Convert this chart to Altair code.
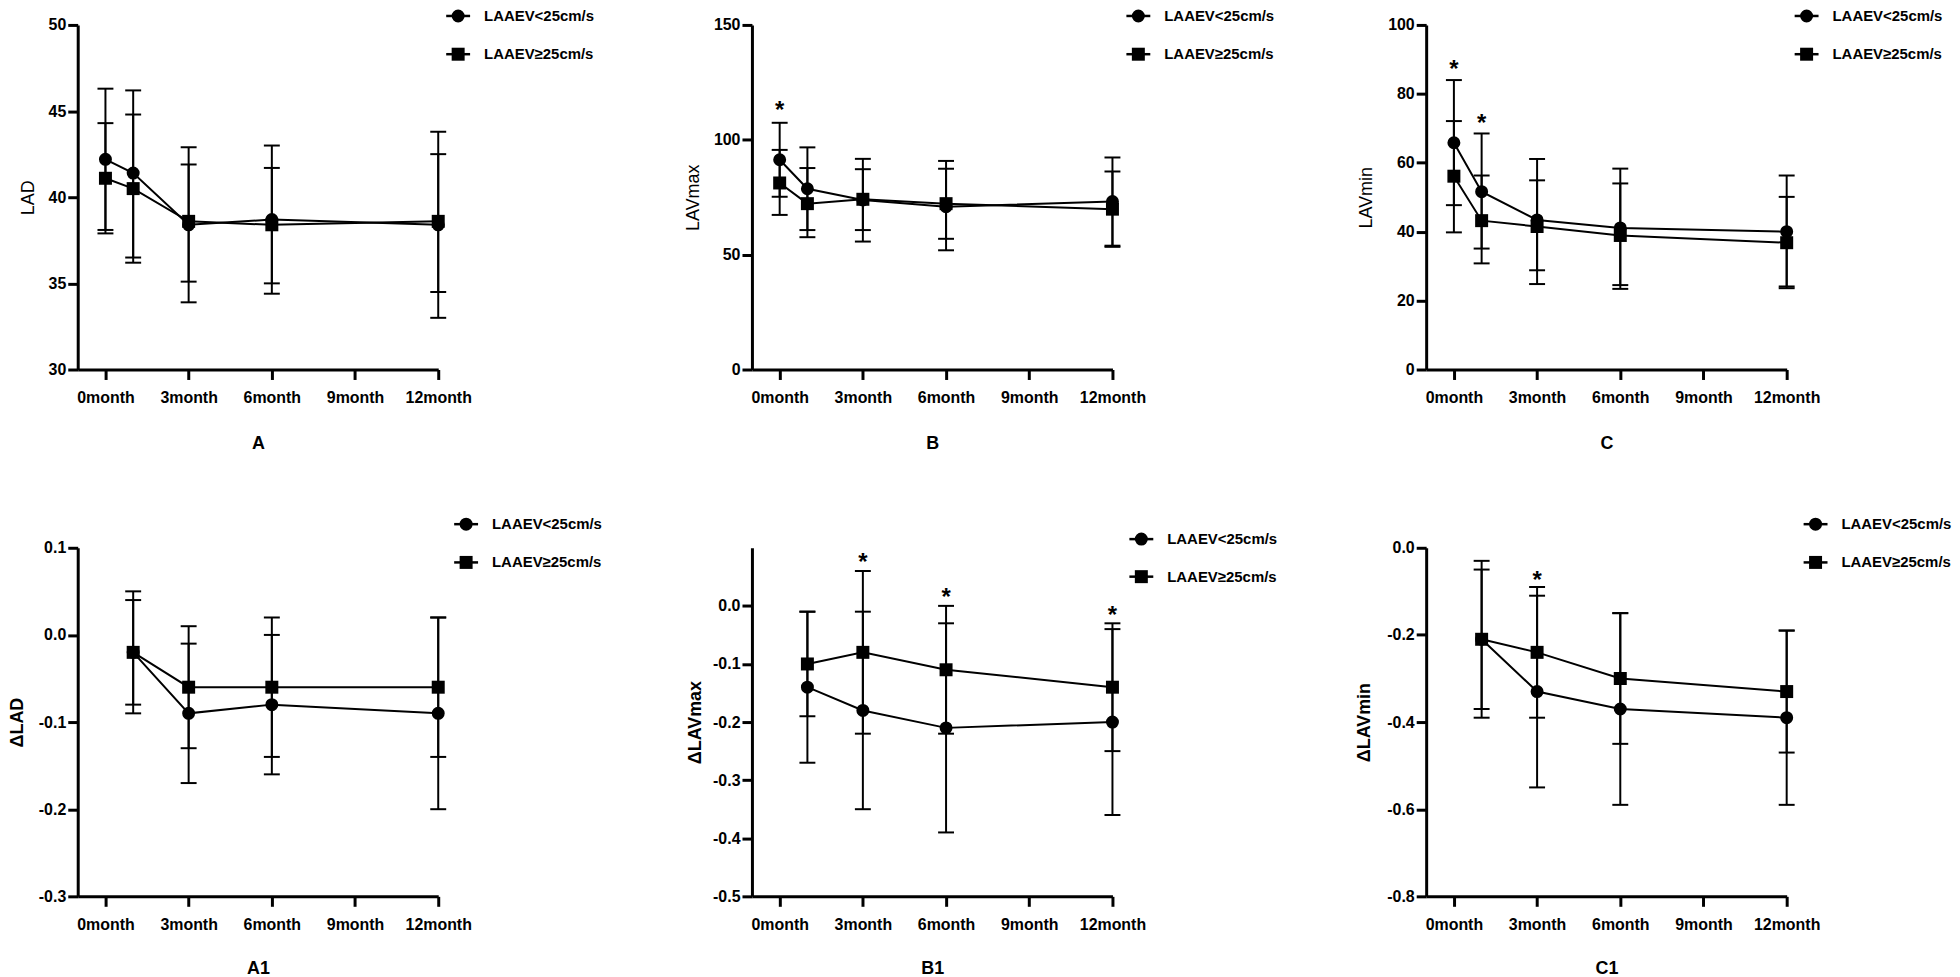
import altair as alt
import pandas as pd

# ---------------- data ----------------
series = ["LAAEV<25cm/s", "LAAEV≥25cm/s"]
months_top = [0, 1, 3, 6, 12]
months_bottom = [1, 3, 6, 12]
x_tick_values = [0, 3, 6, 9, 12]

# A: LAD
lad_low_mean = [42.2, 41.4, 38.4, 38.7, 38.4]
lad_low_upper = [46.3, 46.2, 42.9, 43.0, 43.8]
lad_low_lower = [38.1, 36.5, 33.9, 34.4, 33.0]
lad_high_mean = [41.1, 40.5, 38.6, 38.4, 38.6]
lad_high_upper = [44.3, 44.8, 41.9, 41.7, 42.5]
lad_high_lower = [37.9, 36.2, 35.1, 35.0, 34.5]

# B: LAVmax
lavmax_low_mean = [91.3, 78.7, 73.8, 70.9, 73.1]
lavmax_low_upper = [107.4, 96.7, 91.7, 90.8, 92.3]
lavmax_low_lower = [75.2, 60.7, 55.7, 51.9, 53.9]
lavmax_high_mean = [81.2, 72.2, 74.1, 72.2, 69.8]
lavmax_high_upper = [95.6, 87.7, 87.2, 87.4, 86.2]
lavmax_high_lower = [67.3, 57.6, 60.7, 56.9, 53.4]
lavmax_star_months = [0]
lavmax_star_values = [115.6]

# C: LAVmin
lavmin_low_mean = [65.8, 51.6, 43.4, 41.1, 40.0]
lavmin_low_upper = [84.0, 68.5, 61.1, 58.3, 56.3]
lavmin_low_lower = [47.7, 35.1, 24.8, 23.4, 23.6]
lavmin_high_mean = [56.1, 43.2, 41.5, 38.9, 36.8]
lavmin_high_upper = [72.1, 56.3, 54.9, 54.0, 50.1]
lavmin_high_lower = [39.8, 30.8, 28.8, 24.5, 24.1]
lavmin_star_months = [0, 1]
lavmin_star_values = [89.0, 73.3]

# A1: delta LAD
dlad_low_mean = [-0.02, -0.09, -0.08, -0.09]
dlad_low_upper = [0.05, -0.01, 0.00, 0.02]
dlad_low_lower = [-0.09, -0.17, -0.16, -0.20]
dlad_high_mean = [-0.02, -0.06, -0.06, -0.06]
dlad_high_upper = [0.04, 0.01, 0.02, 0.02]
dlad_high_lower = [-0.08, -0.13, -0.14, -0.14]

# B1: delta LAVmax
dlavmax_low_mean = [-0.14, -0.18, -0.21, -0.20]
dlavmax_low_upper = [-0.01, -0.01, -0.03, -0.04]
dlavmax_low_lower = [-0.27, -0.35, -0.39, -0.36]
dlavmax_high_mean = [-0.10, -0.08, -0.11, -0.14]
dlavmax_high_upper = [-0.01, 0.06, 0.00, -0.03]
dlavmax_high_lower = [-0.19, -0.22, -0.22, -0.25]
dlavmax_star_months = [3, 6, 12]
dlavmax_star_values = [0.085, 0.026, -0.005]

# C1: delta LAVmin
dlavmin_low_mean = [-0.21, -0.33, -0.37, -0.39]
dlavmin_low_upper = [-0.03, -0.11, -0.15, -0.19]
dlavmin_low_lower = [-0.39, -0.55, -0.59, -0.59]
dlavmin_high_mean = [-0.21, -0.24, -0.30, -0.33]
dlavmin_high_upper = [-0.05, -0.09, -0.15, -0.19]
dlavmin_high_lower = [-0.37, -0.39, -0.45, -0.47]
dlavmin_star_months = [3]
dlavmin_star_values = [-0.06]

FONT = "Liberation Sans"
BLACK = "#000000"
W = 362
H_TOP = 346
H_BOT = 350


def build_df(months, lm, lu, ll, hm, hu, hl):
    rows = []
    for s, mean, up, lo in [(series[0], lm, lu, ll), (series[1], hm, hu, hl)]:
        for m, v, u, l in zip(months, mean, up, lo):
            rows.append({"month": m, "series": s, "mean": v, "upper": u, "lower": l})
    return pd.DataFrame(rows)


def panel(df, star_months, star_values, ydomain, yticks, ylabel_expr, ytitle,
          ytitle_weight, ytitle_x, letter, letter_y, leg_x, leg_y1, leg_y2, height):
    x_axis = alt.Axis(values=x_tick_values, labelExpr="datum.value + 'month'",
                      title=letter, titleX=W / 2, titleY=letter_y, titleBaseline="middle",
                      titleAlign="center", titleFontSize=18, titleFontWeight="bold",
                      tickSize=10, labelPadding=10, labelFontSize=16, labelFontWeight="bold",
                      labelFlush=False, labelOverlap=False, grid=False,
                      domainColor=BLACK, domainWidth=3, tickColor=BLACK, tickWidth=3,
                      labelColor=BLACK, titleColor=BLACK)
    y_axis = alt.Axis(values=yticks, labelExpr=ylabel_expr, title=ytitle,
                      titleX=ytitle_x, titleY=height / 2, titleBaseline="middle",
                      titleAlign="center", titleAngle=270, titleFontSize=18,
                      titleFontWeight=ytitle_weight, tickSize=10, labelPadding=2,
                      labelFontSize=16, labelFontWeight="bold", labelFlush=False,
                      labelOverlap=False, grid=False,
                      domainColor=BLACK, domainWidth=3, tickColor=BLACK, tickWidth=3,
                      labelColor=BLACK, titleColor=BLACK)
    xscale = alt.Scale(domain=[-1, 12], nice=False, zero=False)
    yscale = alt.Scale(domain=ydomain, nice=False, zero=False)

    def X():
        return alt.X("month:Q", scale=xscale, axis=x_axis)

    def Y(field):
        return alt.Y(f"{field}:Q", scale=yscale, axis=y_axis)

    base = alt.Chart(df)
    err = base.mark_rule(color=BLACK, strokeWidth=2).encode(
        x=X(), y=Y("upper"), y2="lower:Q")
    cap_up = base.mark_tick(orient="horizontal", size=16, thickness=2, color=BLACK,
                            opacity=1).encode(x=X(), y=Y("upper"))
    cap_lo = base.mark_tick(orient="horizontal", size=16, thickness=2, color=BLACK,
                            opacity=1).encode(x=X(), y=Y("lower"))
    line = base.mark_line(color=BLACK, strokeWidth=2).encode(
        x=X(), y=Y("mean"), detail="series:N")
    pts = base.mark_point(filled=True, opacity=1, color=BLACK, size=170).encode(
        x=X(), y=Y("mean"),
        shape=alt.Shape("series:N", scale=alt.Scale(domain=series, range=["circle", "square"]),
                        legend=None))
    layers = [err, cap_up, cap_lo, line, pts]

    if star_months:
        sdf = pd.DataFrame({"month": star_months, "star": star_values})
        stars = alt.Chart(sdf).mark_text(text="*", fontSize=24, fontWeight="bold",
                                         color=BLACK, baseline="alphabetic", dy=14,
                                         font=FONT).encode(x=X(), y=Y("star"))
        layers.append(stars)

    # legend drawn as marks
    for i, (shape, ly) in enumerate([("circle", leg_y1), ("square", leg_y2)]):
        ldf = pd.DataFrame({"label": [series[i]]})
        lc = alt.Chart(ldf)
        layers.append(lc.mark_rule(color=BLACK, strokeWidth=2.5).encode(
            x=alt.value(leg_x - 12), x2=alt.value(leg_x + 12), y=alt.value(ly)))
        layers.append(lc.mark_point(shape=shape, filled=True, opacity=1, color=BLACK,
                                    size=170).encode(x=alt.value(leg_x), y=alt.value(ly)))
        layers.append(lc.mark_text(align="left", baseline="middle", fontSize=15,
                                   fontWeight="bold", color=BLACK, font=FONT).encode(
            x=alt.value(leg_x + 26), y=alt.value(ly), text="label:N"))

    return alt.layer(*layers).properties(width=W, height=height)


int_expr = "format(datum.value, 'd')"
dec_expr = "(datum.value < -0.00001 ? '-' : '') + format(abs(datum.value), '.1f')"

pA = panel(build_df(months_top, lad_low_mean, lad_low_upper, lad_low_lower,
                    lad_high_mean, lad_high_upper, lad_high_lower),
           [], [], [30, 50], [30, 35, 40, 45, 50], int_expr, "LAD", "normal", -49,
           "A", 74, 382, -9, 29.4, H_TOP)
pB = panel(build_df(months_top, lavmax_low_mean, lavmax_low_upper, lavmax_low_lower,
                    lavmax_high_mean, lavmax_high_upper, lavmax_high_lower),
           lavmax_star_months, lavmax_star_values, [0, 150], [0, 50, 100, 150], int_expr,
           "LAVmax", "normal", -59, "B", 74, 388, -9, 29.4, H_TOP)
pC = panel(build_df(months_top, lavmin_low_mean, lavmin_low_upper, lavmin_low_lower,
                    lavmin_high_mean, lavmin_high_upper, lavmin_high_lower),
           lavmin_star_months, lavmin_star_values, [0, 100], [0, 20, 40, 60, 80, 100],
           int_expr, "LAVmin", "normal", -60, "C", 74, 382, -9, 29.4, H_TOP)
pA1 = panel(build_df(months_bottom, dlad_low_mean, dlad_low_upper, dlad_low_lower,
                     dlad_high_mean, dlad_high_upper, dlad_high_lower),
            [], [], [-0.3, 0.1], [-0.3, -0.2, -0.1, 0.0, 0.1], dec_expr, "ΔLAD", "bold",
            -60, "A1", 72, 390, -23.7, 14.7, H_BOT)
pB1 = panel(build_df(months_bottom, dlavmax_low_mean, dlavmax_low_upper, dlavmax_low_lower,
                     dlavmax_high_mean, dlavmax_high_upper, dlavmax_high_lower),
            dlavmax_star_months, dlavmax_star_values, [-0.5, 0.1],
            [-0.5, -0.4, -0.3, -0.2, -0.1, 0.0], dec_expr, "ΔLAVmax", "bold", -57,
            "B1", 72, 391, -8.7, 29, H_BOT)
pC1 = panel(build_df(months_bottom, dlavmin_low_mean, dlavmin_low_upper, dlavmin_low_lower,
                     dlavmin_high_mean, dlavmin_high_upper, dlavmin_high_lower),
            dlavmin_star_months, dlavmin_star_values, [-0.8, 0.0],
            [-0.8, -0.6, -0.4, -0.2, 0.0], dec_expr, "ΔLAVmin", "bold", -62,
            "C1", 72, 391, -23.7, 14.7, H_BOT)

chart = alt.concat(pA, pB, pC, pA1, pB1, pC1, columns=3,
                   spacing=alt.RowColnumber(row=179, column=315),
                   bounds="flush").properties(
    padding={"left": 0, "top": -2, "right": 0, "bottom": 0},
    background="white",
).configure(font=FONT).configure_view(stroke="transparent").configure_axis(
    domainColor=BLACK, domainWidth=3, tickColor=BLACK, tickWidth=3,
    labelColor=BLACK, titleColor=BLACK, grid=False, labelFont=FONT, titleFont=FONT,
)

chart.save("out.html", embed_options={"renderer": "svg", "actions": False})
